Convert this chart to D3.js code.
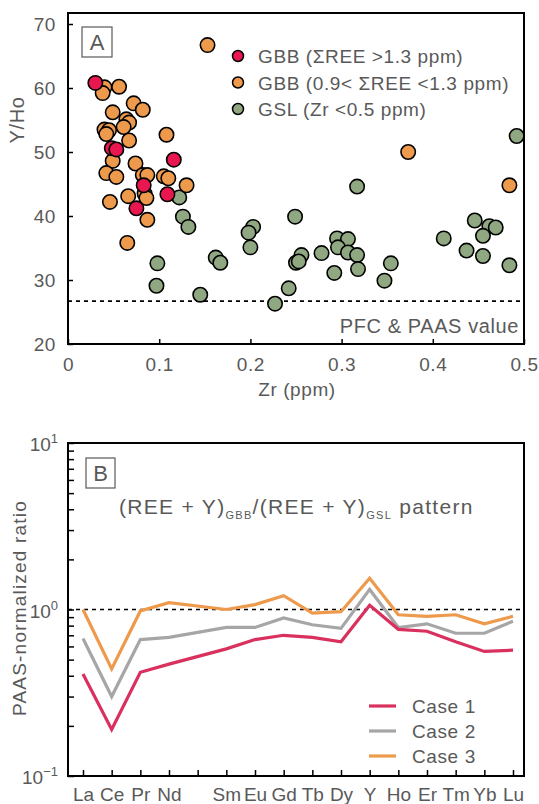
<!DOCTYPE html>
<html>
<head>
<meta charset="utf-8">
<script src="https://cdn.jsdelivr.net/npm/d3@7"></script>
<style>
  body { margin: 0; background: #fff; }
  text { font-family: "Liberation Sans", Arial, sans-serif; fill: #595959; }
</style>
</head>
<body>
<script>
// ---- panel A data (Zr ppm, Y/Ho) ----
var gbbHighZr = [0.030, 0.048, 0.053, 0.116, 0.083, 0.109, 0.075];
var gbbHighYHo = [60.8, 50.6, 50.4, 48.8, 44.8, 43.4, 41.2];

var gbbMidZr = [0.040, 0.038, 0.056, 0.072, 0.082, 0.049, 0.064, 0.067, 0.061, 0.040, 0.045, 0.042,
  0.067, 0.108, 0.049, 0.074, 0.042, 0.053, 0.082, 0.087, 0.105, 0.110, 0.130, 0.084, 0.086, 0.066,
  0.046, 0.087, 0.065, 0.153, 0.373, 0.484];
var gbbMidYHo = [60.1, 59.2, 60.2, 57.6, 56.6, 56.2, 55.1, 54.6, 53.9, 53.5, 53.4, 52.8,
  51.8, 52.7, 48.6, 48.2, 46.7, 46.1, 46.4, 46.4, 46.2, 45.9, 44.8, 43.5, 42.8, 43.1,
  42.2, 39.4, 35.8, 66.7, 50.0, 44.8];

var gslZr = [0.122, 0.126, 0.132, 0.098, 0.097, 0.145, 0.162, 0.167, 0.203, 0.198, 0.200, 0.227,
  0.242, 0.249, 0.250, 0.317, 0.256, 0.253, 0.278, 0.295, 0.307, 0.296, 0.307, 0.317, 0.292, 0.318,
  0.354, 0.347, 0.412, 0.446, 0.462, 0.469, 0.455, 0.437, 0.455, 0.484, 0.492];
var gslYHo = [42.9, 39.9, 38.3, 32.6, 29.1, 27.7, 33.5, 32.7, 38.3, 37.4, 35.1, 26.3,
  28.7, 39.9, 32.7, 44.6, 33.9, 32.9, 34.2, 36.5, 36.4, 35.1, 34.3, 33.9, 31.1, 31.7,
  32.6, 29.9, 36.5, 39.3, 38.4, 38.2, 36.9, 34.6, 33.75, 32.3, 52.5];

var paasYHo = 26.7;
var xTicksA = [0, 0.1, 0.2, 0.3, 0.4, 0.5];
var yTicksA = [20, 30, 40, 50, 60, 70];
var legendA = ["GBB (\u03a3REE >1.3 ppm)", "GBB (0.9< \u03a3REE <1.3 ppm)", "GSL (Zr <0.5 ppm)"];

// ---- panel B data ----
var elements = ["La", "Ce", "Pr", "Nd", "Pm", "Sm", "Eu", "Gd", "Tb", "Dy", "Y", "Ho", "Er", "Tm", "Yb", "Lu"];
var case1 = [0.41, 0.19, 0.42, 0.47, null, 0.58, 0.66, 0.70, 0.68, 0.64, 1.06, 0.76, 0.74, 0.64, 0.56, 0.57];
var case2 = [0.67, 0.30, 0.66, 0.68, null, 0.78, 0.78, 0.89, 0.81, 0.77, 1.32, 0.78, 0.82, 0.72, 0.72, 0.85];
var case3 = [1.00, 0.44, 0.98, 1.10, null, 1.00, 1.07, 1.21, 0.95, 0.97, 1.54, 0.93, 0.91, 0.93, 0.82, 0.91];
var caseNames = ["Case 1", "Case 2", "Case 3"];

var colors = { red: "#e8174f", orange: "#ee9a4d", green: "#8fa882", c1: "#d9305e", c2: "#a6a6a6", c3: "#ee9a4d" };
var fontFam = "'Liberation Sans', Arial, sans-serif";

var svg = d3.select("body").append("svg")
  .attr("width", 539)
  .attr("height", 804);

// ================= Panel A =================
var A = { left: 68, right: 524, top: 13, bottom: 344 };
var xA = d3.scaleLinear().domain([0, 0.5]).range([A.left, A.right]);
var yA = d3.scaleLinear().domain([20, 70]).range([A.bottom, 24]);

var gA = svg.append("g");

// dashed PAAS line
gA.append("line")
  .attr("x1", A.left).attr("x2", A.right)
  .attr("y1", yA(paasYHo)).attr("y2", yA(paasYHo))
  .attr("stroke", "#000").attr("stroke-width", 1.6)
  .attr("stroke-dasharray", "4,4");

gA.append("text")
  .attr("x", 519).attr("y", 333)
  .attr("text-anchor", "end")
  .style("font-size", "20px")
  .style("letter-spacing", "0.6px")
  .text("PFC & PAAS value");

function drawPoints(xs, ys, fill) {
  gA.append("g").selectAll("circle")
    .data(xs.map(function(d, i) { return [d, ys[i]]; }))
    .enter().append("circle")
    .attr("cx", function(d) { return xA(d[0]); })
    .attr("cy", function(d) { return yA(d[1]); })
    .attr("r", 7.2)
    .attr("fill", fill)
    .attr("stroke", "#000")
    .attr("stroke-width", 1.6);
}
drawPoints(gslZr, gslYHo, colors.green);
drawPoints(gbbMidZr, gbbMidYHo, colors.orange);
drawPoints(gbbHighZr, gbbHighYHo, colors.red);

// frame
gA.append("rect")
  .attr("x", A.left).attr("y", A.top)
  .attr("width", A.right - A.left).attr("height", A.bottom - A.top)
  .attr("fill", "none").attr("stroke", "#000").attr("stroke-width", 2);

var xAxisA = d3.axisBottom(xA).tickValues(xTicksA)
  .tickFormat(function(d) { return d === 0 ? "0" : d3.format(".1f")(d); })
  .tickSize(-5).tickPadding(14);
gA.append("g").attr("transform", "translate(0," + A.bottom + ")").call(xAxisA);

var yAxisA = d3.axisLeft(yA).tickValues(yTicksA).tickSize(-5).tickPadding(12);
gA.append("g").attr("transform", "translate(" + A.left + ",0)").call(yAxisA);

gA.selectAll(".domain").remove();
gA.selectAll(".tick line").attr("stroke", "#000").attr("stroke-width", 1.5);
gA.selectAll(".tick text").style("font-size", "19px").attr("fill", "#595959")
  .style("letter-spacing", "0.6px").style("font-family", fontFam);

gA.append("text")
  .attr("transform", "translate(24,120) rotate(-90)")
  .attr("text-anchor", "middle")
  .style("font-size", "20px")
  .style("letter-spacing", "0.6px")
  .text("Y/Ho");

gA.append("text")
  .attr("x", 297).attr("y", 396)
  .attr("text-anchor", "middle")
  .style("font-size", "19px")
  .style("letter-spacing", "0.6px")
  .text("Zr (ppm)");

// label box
gA.append("rect").attr("x", 82).attr("y", 27).attr("width", 30).attr("height", 30)
  .attr("fill", "#fff").attr("stroke", "#595959").attr("stroke-width", 1.2);
gA.append("text").attr("x", 97).attr("y", 50).attr("text-anchor", "middle")
  .style("font-size", "22px").text("A");

// legend A
var legColors = [colors.red, colors.orange, colors.green];
var legA = gA.append("g").selectAll("g").data(legendA).enter().append("g")
  .attr("transform", function(d, i) { return "translate(238," + (56 + i * 26.5) + ")"; });
legA.append("circle").attr("r", 5.5)
  .attr("fill", function(d, i) { return legColors[i]; })
  .attr("stroke", "#000").attr("stroke-width", 1.5);
legA.append("text").attr("x", 20).attr("y", 7)
  .style("font-size", "19px")
  .style("letter-spacing", "0.6px")
  .text(function(d) { return d; });

// ================= Panel B =================
var B = { left: 68, right: 524, top: 443, bottom: 776 };
var xB = d3.scalePoint().domain(elements).range([83, 513]);
var yB = d3.scaleLog().domain([0.1, 10]).range([B.bottom, B.top]);

var gB = svg.append("g");

gB.append("line")
  .attr("x1", B.left).attr("x2", B.right)
  .attr("y1", yB(1)).attr("y2", yB(1))
  .attr("stroke", "#000").attr("stroke-width", 1.6)
  .attr("stroke-dasharray", "4,4");

var line = d3.line()
  .x(function(d) { return xB(d[0]); })
  .y(function(d) { return yB(d[1]); });

function clean(vals) {
  return elements.map(function(e, i) { return [e, vals[i]]; }).filter(function(d) { return d[1] !== null; });
}
var series = [case1, case2, case3];
var lineColors = [colors.c1, colors.c2, colors.c3];
// draw case 3 first so case 1 is on top
[2, 1, 0].forEach(function(k) {
  gB.append("path")
    .attr("d", line(clean(series[k])))
    .attr("fill", "none")
    .attr("stroke", lineColors[k])
    .attr("stroke-width", 3.2);
});

gB.append("rect")
  .attr("x", B.left).attr("y", B.top)
  .attr("width", B.right - B.left).attr("height", B.bottom - B.top)
  .attr("fill", "none").attr("stroke", "#000").attr("stroke-width", 2);

var xAxisB = d3.axisBottom(xB)
  .tickFormat(function(d) { return d === "Pm" ? "" : d; })
  .tickSize(-6).tickPadding(12);
gB.append("g").attr("transform", "translate(0," + B.bottom + ")").call(xAxisB);

var logTicks = [];
[0.1, 1].forEach(function(base) {
  for (var m = 1; m <= 9; m++) logTicks.push(base * m);
});
logTicks.push(10);
var yAxisB = d3.axisLeft(yB).tickValues(logTicks).tickFormat("").tickSize(-6);
gB.append("g").attr("transform", "translate(" + B.left + ",0)").call(yAxisB);

gB.selectAll(".domain").remove();
gB.selectAll(".tick line").attr("stroke", "#000").attr("stroke-width", 1.5);
gB.selectAll(".tick text").style("font-size", "19px").attr("fill", "#595959")
  .style("font-family", fontFam);

// log labels with superscript
var expLabels = [[10, "1"], [1, "0"], [0.1, "\u22121"]];
expLabels.forEach(function(d) {
  var t = gB.append("text")
    .attr("x", 58).attr("y", yB(d[0]) + 8)
    .attr("text-anchor", "end")
    .style("font-size", "19px");
  t.append("tspan").text("10");
  t.append("tspan").attr("dy", -8).style("font-size", "13px").text(d[1]);
});

gB.append("text")
  .attr("transform", "translate(26,608) rotate(-90)")
  .attr("text-anchor", "middle")
  .style("font-size", "19px")
  .style("letter-spacing", "1.2px")
  .text("PAAS-normalized ratio");

gB.append("rect").attr("x", 86).attr("y", 458).attr("width", 29).attr("height", 30)
  .attr("fill", "#fff").attr("stroke", "#595959").attr("stroke-width", 1.2);
gB.append("text").attr("x", 100.5).attr("y", 481).attr("text-anchor", "middle")
  .style("font-size", "22px").text("B");

var title = gB.append("text").attr("x", 119).attr("y", 514)
  .style("font-size", "21px").style("letter-spacing", "1.3px");
title.append("tspan").text("(REE + Y)");
title.append("tspan").attr("dy", 5).style("font-size", "11px").text("GBB");
title.append("tspan").attr("dy", -5).text("/(REE + Y)");
title.append("tspan").attr("dy", 5).style("font-size", "11px").text("GSL");
title.append("tspan").attr("dy", -5).text(" pattern");

var legB = gB.append("g").selectAll("g").data(caseNames).enter().append("g")
  .attr("transform", function(d, i) { return "translate(369," + (706 + i * 25) + ")"; });
legB.append("line").attr("x1", 0).attr("x2", 27)
  .attr("stroke", function(d, i) { return lineColors[i]; })
  .attr("stroke-width", 3.2);
legB.append("text").attr("x", 43).attr("y", 7)
  .style("font-size", "19px")
  .style("letter-spacing", "0.6px")
  .text(function(d) { return d; });
</script>
</body>
</html>
